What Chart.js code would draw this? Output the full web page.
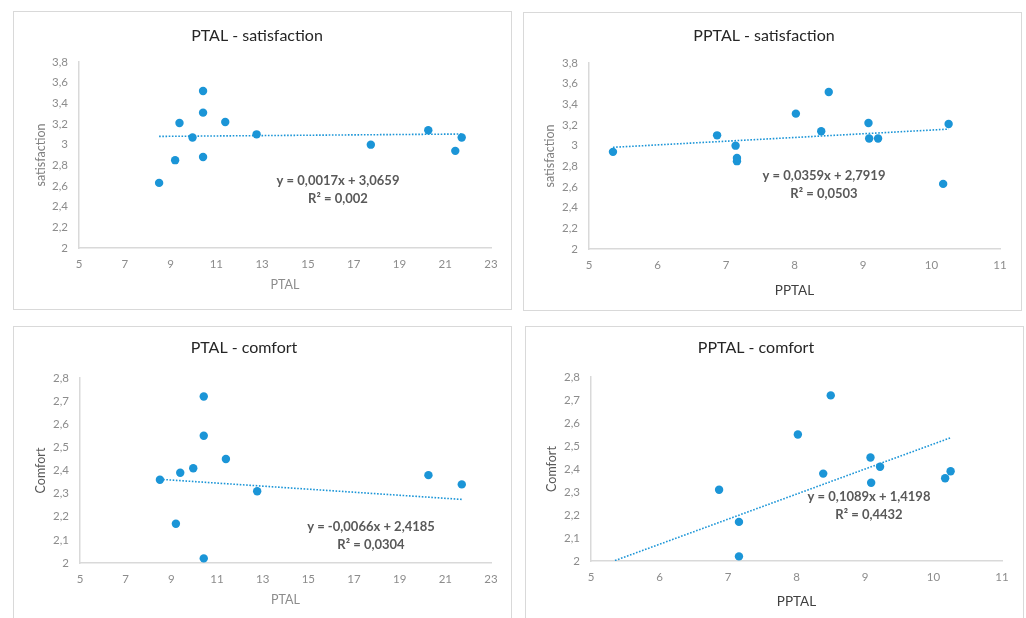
<!DOCTYPE html>
<html>
<head>
<meta charset="utf-8">
<script src="https://cdn.jsdelivr.net/npm/chart.js@4.4.1/dist/chart.umd.min.js"></script>
<style>
  body { margin: 0; background: #fff; width: 1026px; height: 618px; overflow: hidden; position: relative; }
  .panel { position: absolute; border: 1px solid #d9d9d9; background: #fff; }
  canvas { display: block; }
</style>
</head>
<body>
<div class="panel" style="left:13px;top:11px"><canvas id="c1" width="497" height="297"></canvas></div>
<div class="panel" style="left:523px;top:12px"><canvas id="c2" width="497" height="297"></canvas></div>
<div class="panel" style="left:13px;top:326px"><canvas id="c3" width="497" height="297"></canvas></div>
<div class="panel" style="left:525px;top:326px"><canvas id="c4" width="497" height="297"></canvas></div>
<script>
// one value per subject
const ptal = [8.5, 9.2, 9.39, 9.96, 10.42, 10.42, 10.42, 11.39, 12.76, 17.75, 20.26, 21.44, 21.72];
const pptal = [10.17, 7.16, 10.25, 9.22, 8.5, 8.02, 7.16, 9.08, 6.87, 7.14, 8.39, 5.35, 9.09];
const satisfaction = [2.63, 2.85, 3.21, 3.07, 3.52, 3.31, 2.88, 3.22, 3.1, 3.0, 3.14, 2.94, 3.07];
// two comfort values sit below the axis minimum and are not visible
const comfort = [2.36, 2.17, 2.39, 2.41, 2.72, 2.55, 2.02, 2.45, 2.31, null, 2.38, null, 2.34];

// tick values
const ptalTicks = [5, 7, 9, 11, 13, 15, 17, 19, 21, 23];
const pptalTicks = [5, 6, 7, 8, 9, 10, 11];
const satTicks = [2, 2.2, 2.4, 2.6, 2.8, 3, 3.2, 3.4, 3.6, 3.8];
const comfortTicks = [2, 2.1, 2.2, 2.3, 2.4, 2.5, 2.6, 2.7, 2.8];

// trendline end points (x range of data, y from the printed equation)
const ptalRange = [8.5, 21.72];
const pptalRange = [5.35, 10.25];
const trendPtalSat = [3.080, 3.103];
const trendPptalSat = [2.984, 3.160];
const trendPtalComfort = [2.362, 2.275];
const trendPptalComfort = [2.002, 2.536];

const eqPtalSat = ['y = 0,0017x + 3,0659', 'R\u00B2 = 0,002'];
const eqPptalSat = ['y = 0,0359x + 2,7919', 'R\u00B2 = 0,0503'];
const eqPtalComfort = ['y = -0,0066x + 2,4185', 'R\u00B2 = 0,0304'];
const eqPptalComfort = ['y = 0,1089x + 1,4198', 'R\u00B2 = 0,4432'];

const BLUE = '#1b95d7';
const fmt = v => String(Math.round(v * 10) / 10).replace('.', ',');

const panelText = {
    id: 'panelText',
    afterDraw(chart, args, opts) {
        const ctx = chart.ctx;
        ctx.save();
        ctx.textAlign = 'center';
        ctx.textBaseline = 'middle';
        ctx.fillStyle = '#262626';
        ctx.font = '16px Lato';
        ctx.fillText(opts.title, opts.titleX, opts.titleY);
        ctx.fillStyle = '#595959';
        ctx.font = 'bold 13px Lato';
        opts.eq.forEach((t, i) => ctx.fillText(t, opts.eqX, opts.eqY + i * 18));
        ctx.restore();
    }
};

function makeChart(id, c) {
    const points = c.xs.map((x, i) => ({ x: x, y: c.ys[i] })).filter(p => p.y !== null);
    const trend = c.trendX.map((x, i) => ({ x: x, y: c.trendY[i] }));
    new Chart(document.getElementById(id), {
        type: 'scatter',
        data: {
            datasets: [{
                data: points,
                backgroundColor: BLUE,
                borderWidth: 0,
                pointRadius: 4.2,
                order: 1
            }, {
                data: trend,
                showLine: true,
                borderColor: BLUE,
                borderWidth: 1.6,
                borderDash: [1.6, 1.6],
                pointRadius: 0,
                order: 2
            }]
        },
        options: {
            responsive: false,
            animation: false,
            layout: { padding: { top: c.top, right: c.right, left: 0, bottom: 0 } },
            plugins: {
                legend: { display: false },
                tooltip: { enabled: false },
                panelText: { title: c.title, titleX: c.titleX, titleY: c.titleY, eq: c.eq, eqX: c.eqX, eqY: c.eqY }
            },
            scales: {
                x: {
                    type: 'linear',
                    min: c.xTicks[0],
                    max: c.xTicks[c.xTicks.length - 1],
                    afterBuildTicks: s => { s.ticks = c.xTicks.map(v => ({ value: v })); },
                    afterFit: s => { s.height = c.xh; },
                    grid: { display: false, drawTicks: false },
                    border: { display: true, color: '#d9d9d9', width: 1.5 },
                    ticks: { padding: 9, color: '#8c8c8c', font: { family: 'Lato', size: 11.5 }, callback: fmt },
                    title: { display: true, text: c.xTitle, color: c.xColor, font: { family: 'Lato', size: c.xSize }, padding: { top: 0, bottom: c.xPad } }
                },
                y: {
                    min: c.yTicks[0],
                    max: c.yTicks[c.yTicks.length - 1],
                    afterBuildTicks: s => { s.ticks = c.yTicks.map(v => ({ value: v })); },
                    afterFit: s => { s.width = c.yw; },
                    grid: { display: false, drawTicks: false },
                    border: { display: true, color: '#d9d9d9', width: 1.5 },
                    ticks: { padding: 11, color: '#8c8c8c', font: { family: 'Lato', size: 11.5 }, callback: fmt },
                    title: { display: true, text: c.yTitle, color: c.yColor, font: { family: 'Lato', size: 12.5 }, padding: { top: c.yPad, bottom: 0 } }
                }
            }
        },
        plugins: [panelText]
    });
}

makeChart('c1', {
    xs: ptal, ys: satisfaction, trendX: ptalRange, trendY: trendPtalSat,
    xTicks: ptalTicks, yTicks: satTicks,
    xTitle: 'PTAL', xColor: '#8c8c8c', xSize: 12.5, xPad: 17,
    yTitle: 'satisfaction', yColor: '#7f7f7f', yPad: 19,
    title: 'PTAL - satisfaction', titleX: 243, titleY: 24,
    eq: eqPtalSat, eqX: 324, eqY: 169,
    top: 50, right: 20, yw: 65, xh: 61
});
makeChart('c2', {
    xs: pptal, ys: satisfaction, trendX: pptalRange, trendY: trendPptalSat,
    xTicks: pptalTicks, yTicks: satTicks,
    xTitle: 'PPTAL', xColor: '#404040', xSize: 13.5, xPad: 11,
    yTitle: 'satisfaction', yColor: '#7f7f7f', yPad: 18,
    title: 'PPTAL - satisfaction', titleX: 240, titleY: 23,
    eq: eqPptalSat, eqX: 300, eqY: 163,
    top: 50, right: 21, yw: 65, xh: 61
});
makeChart('c3', {
    xs: ptal, ys: comfort, trendX: ptalRange, trendY: trendPtalComfort,
    xTicks: ptalTicks, yTicks: comfortTicks,
    xTitle: 'PTAL', xColor: '#8c8c8c', xSize: 12.5, xPad: 17,
    yTitle: 'Comfort', yColor: '#595959', yPad: 19,
    title: 'PTAL - comfort', titleX: 230, titleY: 21,
    eq: eqPtalComfort, eqX: 357, eqY: 200,
    top: 51, right: 20, yw: 66, xh: 61
});
makeChart('c4', {
    xs: pptal, ys: comfort, trendX: pptalRange, trendY: trendPptalComfort,
    xTicks: pptalTicks, yTicks: comfortTicks,
    xTitle: 'PPTAL', xColor: '#404040', xSize: 13.5, xPad: 14,
    yTitle: 'Comfort', yColor: '#595959', yPad: 18,
    title: 'PPTAL - comfort', titleX: 230, titleY: 21,
    eq: eqPptalComfort, eqX: 343, eqY: 170,
    top: 50, right: 21, yw: 65, xh: 63
});
</script>
</body>
</html>
